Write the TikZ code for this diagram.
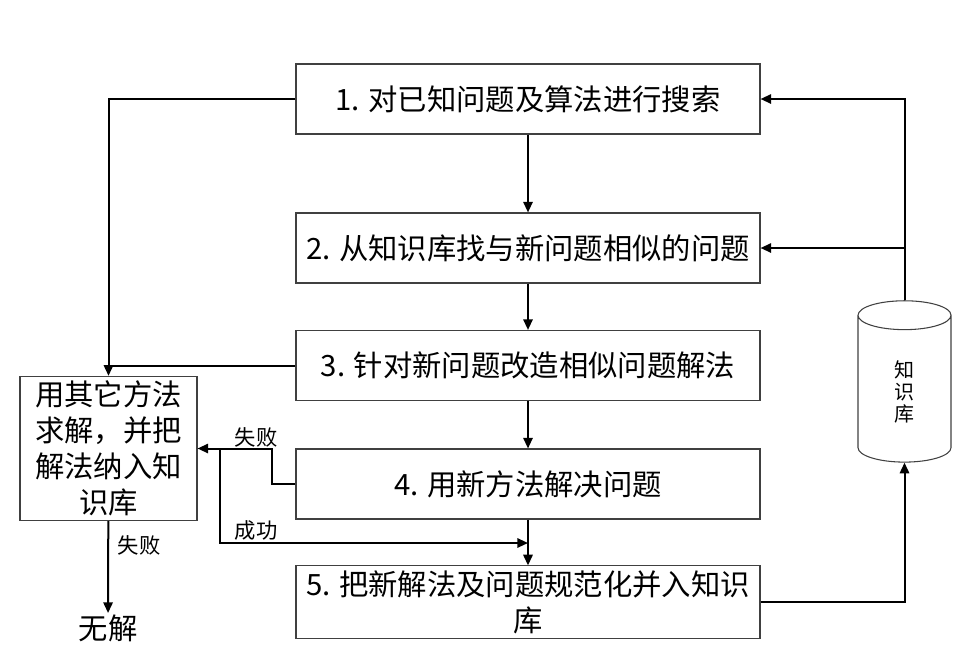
\documentclass[tikz,border=0pt]{standalone}
\usepackage{fontspec}
\setmainfont{Noto Sans CJK SC}
\usetikzlibrary{arrows.meta,shapes.geometric}

\begin{document}
\begin{tikzpicture}[x=0.75pt,y=-0.75pt,
  box/.style = {shape=rectangle, draw=black!75, line width=0.8pt,
    minimum width=348pt, minimum height=52.5pt, align=center,
    font=\fontsize{22}{27}\selectfont},
  conn/.style = {line width=1.5pt, -{Triangle[length=8pt,width=7pt]}},
  lbl/.style = {font=\fontsize{16}{18}\selectfont, inner sep=0pt}]
  \useasboundingbox (0,0) rectangle (974,661);
  % main steps
  \node[box] (s1) at (528,99) {1. 对已知问题及算法进行搜索};
  \node[box] (s2) at (528,248) {2. 从知识库找与新问题相似的问题};
  \node[box] (s3) at (528,365.5) {3. 针对新问题改造相似问题解法};
  \node[box] (s4) at (528,484) {4. 用新方法解决问题};
  \node[box] (s5) at (528,602) {5. 把新解法及问题规范化并入知识\\库};
  % side nodes
  \node[box, minimum width=132.75pt, minimum height=107pt] (other) at (108.5,448.5)
    {用其它方法\\求解，并把\\解法纳入知\\识库};
  \node[anchor=north, inner sep=1pt, font=\fontsize{22}{27}\selectfont] (nosol) at (108,613) {无解};
  \node[cylinder, shape border rotate=90, draw=black!75, line width=0.8pt,
    minimum width=69.75pt, minimum height=121pt, aspect=1, align=center,
    font=\fontsize{15}{16.5}\selectfont] (kb) at (904.5,392) {知\\识\\库};
  \coordinate (split) at (220,449);
  \coordinate (join) at (528,543);
  % connectors
  \draw[conn] (s1) -- (s2);
  \draw[conn] (s2) -- (s3);
  \draw[conn] (s3) -- (s4);
  \draw[conn] (s4) -- (s5);
  \draw[conn] (s1.west) -| (other.north);
  \draw[line width=1.5pt] (s3.west) -- (other.north |- s3.west);
  \draw[conn] (s4.west) -- ++(-23,0) |- (other.east);
  \draw[conn] (split) |- (join);
  \draw[conn] (other) -- (nosol);
  \draw[conn] (kb.north) |- (s1.east);
  \draw[conn] (kb.north |- s2.east) -- (s2.east);
  \draw[conn] (s5.east) -| (kb.south);
  % labels
  \node[lbl] (fail1) at (256,437) {失败};
  \node[lbl] (succ) at (256,530) {成功};
  \node[lbl] (fail2) at (139,545) {失败};
\end{tikzpicture}
\end{document}
